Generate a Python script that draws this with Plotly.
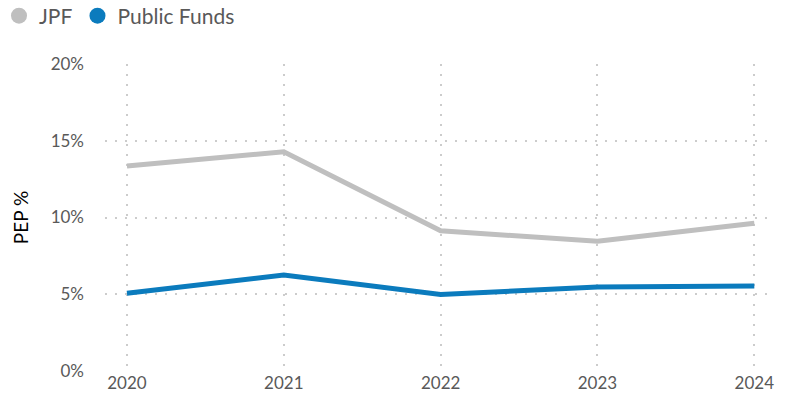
import plotly.graph_objects as go

years = [2020, 2021, 2022, 2023, 2024]
jpf = [13.35, 14.28, 9.13, 8.46, 9.63]
public_funds = [5.07, 6.25, 4.98, 5.48, 5.54]

GRAY = "#bfbfbf"
BLUE = "#0b7bbd"
TEXT = "#595959"
GRID = "#cccccc"
FONT = "Lato, 'Open Sans', sans-serif"

fig = go.Figure()

# Data lines (legend handled by marker-only entries below)
fig.add_trace(go.Scatter(x=years, y=jpf, mode="lines", name="JPF",
                         line=dict(color=GRAY, width=5), showlegend=False))
fig.add_trace(go.Scatter(x=years, y=public_funds, mode="lines", name="Public Funds",
                         line=dict(color=BLUE, width=5), showlegend=False))

# Circle legend entries
for name, color in [("JPF", GRAY), ("Public Funds", BLUE)]:
    fig.add_trace(go.Scatter(x=[None], y=[None], mode="markers", name=name,
                             marker=dict(color=color, size=19, symbol="circle")))

PLOT_L, PLOT_R, PLOT_T, PLOT_B = 105, 23, 64, 36
plot_w = 793 - PLOT_L - PLOT_R
plot_h = 407 - PLOT_T - PLOT_B

fig.update_layout(
    width=793, height=407,
    margin=dict(l=PLOT_L, r=PLOT_R, t=PLOT_T, b=PLOT_B, autoexpand=False),
    paper_bgcolor="white", plot_bgcolor="white",
    font=dict(family=FONT, color=TEXT, size=17),
    legend=dict(orientation="h", x=-(PLOT_L + 1) / plot_w, y=1 + (PLOT_T - 16) / plot_h,
                xanchor="left", yanchor="middle",
                font=dict(size=21, color=TEXT), itemwidth=30,
                traceorder="normal", bgcolor="rgba(0,0,0,0)"),
    xaxis=dict(range=[2019.86, 2024.10], tickvals=years, ticktext=[str(y) for y in years],
               showgrid=True, gridcolor=GRID, griddash="2px,8px", gridwidth=2,
               zeroline=False, showline=False, ticks="",
               tickfont=dict(size=17, color=TEXT)),
    yaxis=dict(range=[0, 20], tickvals=[0, 5, 10, 15, 20],
               ticktext=["0%", "5%", "10%", "15%", "20%"],
               showgrid=True, gridcolor=GRID, griddash="2px,8px", gridwidth=2,
               zeroline=False, showline=False, ticks="",
               ticklabelstandoff=20,
               tickfont=dict(size=17, color=TEXT),
               title=dict(text="PEP %", font=dict(size=19, color="black"), standoff=16)),
)

fig.write_html("out.html")
